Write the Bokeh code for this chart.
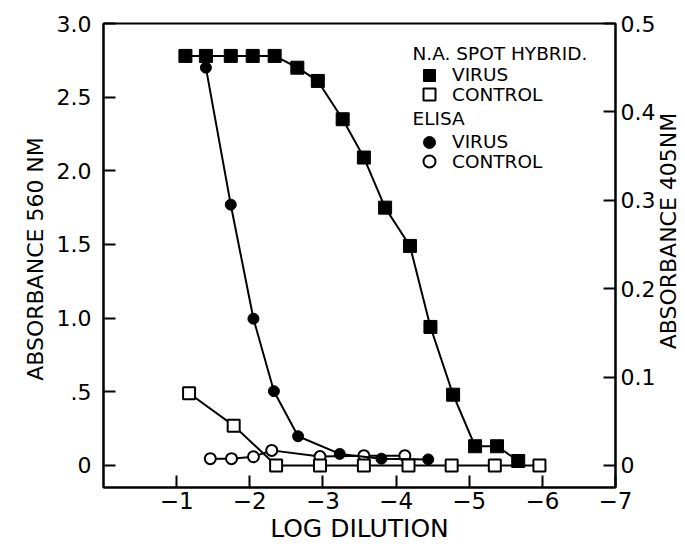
import math
from bokeh.plotting import figure
from bokeh.models import (Range1d, LinearAxis, FixedTicker, Legend, LegendItem, Label)
from bokeh.embed import file_html
from bokeh.resources import INLINE

# ---- data ----
# N.A. spot hybridization (left axis, absorbance 560 nm)
na_virus_x = [-1.12, -1.40, -1.74, -2.04, -2.34, -2.65, -2.93, -3.27, -3.56, -3.85,
              -4.19, -4.47, -4.78, -5.08, -5.38, -5.67]
na_virus_y = [2.78, 2.78, 2.78, 2.78, 2.78, 2.70, 2.61, 2.35, 2.09, 1.75,
              1.49, 0.94, 0.48, 0.13, 0.13, 0.03]
na_control_x = [-1.17, -1.78, -2.36, -2.96, -3.56, -4.17, -4.76, -5.35, -5.96]
na_control_y = [0.49, 0.27, 0.0, 0.0, 0.0, 0.0, 0.0, 0.0, 0.0]

# ELISA (right axis, absorbance 405 nm)
elisa_virus_x = [-1.40, -1.74, -2.05, -2.33, -2.66, -3.23, -3.80, -4.44]
elisa_virus_y = [0.450, 0.295, 0.166, 0.084, 0.033, 0.013, 0.0076, 0.0068]
elisa_control_x = [-1.46, -1.75, -2.05, -2.30, -2.96, -3.56, -4.12]
elisa_control_y = [0.0076, 0.0076, 0.0098, 0.017, 0.010, 0.011, 0.011]

x_ticks = [-1, -2, -3, -4, -5, -6, -7]
x_tick_labels = ["\u22121", "\u22122", "\u22123", "\u22124", "\u22125", "\u22126", "\u22127"]
left_ticks = [0, 0.5, 1.0, 1.5, 2.0, 2.5, 3.0]
left_tick_labels = ["0", ".5", "1.0", "1.5", "2.0", "2.5", "3.0"]
right_ticks = [0, 0.1, 0.2, 0.3, 0.4, 0.5]
right_tick_labels = ["0", "0.1", "0.2", "0.3", "0.4", "0.5"]

legend_titles = ["N.A. SPOT HYBRID.", "ELISA"]
legend_labels = ["VIRUS", "CONTROL"]

FONT = "DejaVu Sans"
W, H = 684, 545
B_LEFT, B_RIGHT, B_TOP, B_BOTTOM = 103, 69, 23, 57
FRAME_W = W - B_LEFT - B_RIGHT
FRAME_H = H - B_TOP - B_BOTTOM

p = figure(width=W, height=H, output_backend="svg", toolbar_location=None,
           x_range=Range1d(0, -7), y_range=Range1d(-0.15, 3.0),
           min_border_left=B_LEFT, min_border_right=B_RIGHT,
           min_border_top=B_TOP, min_border_bottom=B_BOTTOM)
p.extra_y_ranges = {"r": Range1d(-0.025, 0.5)}
p.xgrid.visible = False
p.ygrid.visible = False
p.outline_line_color = "black"
p.outline_line_width = 2
p.background_fill_color = "white"
p.border_fill_color = "white"

def style_axis(ax, ticks, labels, font_size, label_size):
    ax.ticker = FixedTicker(ticks=ticks)
    ax.major_label_overrides = {t: l for t, l in zip(ticks, labels)}
    ax.minor_tick_line_color = None
    ax.major_tick_in = 12
    ax.major_tick_out = 0
    ax.major_tick_line_width = 2
    ax.major_tick_line_color = "black"
    ax.axis_line_width = 2
    ax.axis_line_color = "black"
    ax.major_label_text_font = FONT
    ax.major_label_text_font_size = font_size
    ax.major_label_text_color = "black"
    ax.axis_label_text_font = FONT
    ax.axis_label_text_font_size = label_size
    ax.axis_label_text_font_style = "normal"
    ax.axis_label_text_color = "black"

xa = p.xaxis[0]
style_axis(xa, x_ticks, x_tick_labels, "23px", "25px")
xa.axis_label = "LOG DILUTION"
xa.major_label_standoff = 4
xa.axis_label_standoff = 2

ya = p.yaxis[0]
style_axis(ya, left_ticks, left_tick_labels, "22px", "22px")
ya.axis_label = "ABSORBANCE  560 NM"
ya.major_label_standoff = 12
ya.axis_label_standoff = 6

ra = LinearAxis(y_range_name="r")
style_axis(ra, right_ticks, right_tick_labels, "22px", "22px")
ra.major_label_standoff = 5
p.add_layout(ra, "right")

# right axis title, reading bottom-to-top as in the reference
p.add_layout(Label(x=10, y=FRAME_H - (228 - B_TOP), x_units="screen", y_units="screen",
                   text="ABSORBANCE  405NM", angle=math.pi / 2, angle_units="rad",
                   text_font=FONT, text_font_size="22px", text_color="black",
                   text_align="center", text_baseline="middle"), "right")

LW = 2
# ELISA control
p.line(elisa_control_x, elisa_control_y, y_range_name="r", line_color="black", line_width=LW)
r_ec = p.scatter(elisa_control_x, elisa_control_y, y_range_name="r", marker="circle", size=11,
                 fill_color="white", line_color="black", line_width=LW)
# ELISA virus
p.line(elisa_virus_x, elisa_virus_y, y_range_name="r", line_color="black", line_width=LW)
r_ev = p.scatter(elisa_virus_x, elisa_virus_y, y_range_name="r", marker="circle", size=11,
                 fill_color="black", line_color="black", line_width=1)
# NA control
p.line(na_control_x, na_control_y, line_color="black", line_width=LW)
r_nc = p.scatter(na_control_x, na_control_y, marker="square", size=12,
                 fill_color="white", line_color="black", line_width=LW)
# NA virus
p.line(na_virus_x, na_virus_y, line_color="black", line_width=LW)
r_nv = p.scatter(na_virus_x, na_virus_y, marker="square", size=13,
                 fill_color="black", line_color="black", line_width=1)

# legend: one single-item legend per row, headings as labels (screen units, frame-relative)
def row_legend(label, renderer, center_y_page):
    lg = Legend(items=[LegendItem(label=label, renderers=[renderer])],
                location=(311, FRAME_H - (center_y_page - B_TOP) - 15))
    lg.label_text_font = FONT
    lg.label_text_font_size = "18.5px"
    lg.label_text_color = "black"
    lg.glyph_width = 30
    lg.glyph_height = 30
    lg.label_height = 30
    lg.label_standoff = 8
    lg.padding = 0
    lg.margin = 0
    lg.border_line_alpha = 0
    lg.background_fill_alpha = 0
    p.add_layout(lg, "center")

def heading(text, center_y_page):
    lab = Label(x=309, y=FRAME_H - (center_y_page - B_TOP), x_units="screen", y_units="screen",
                text=text, text_font=FONT, text_font_size="18.5px", text_color="black",
                text_align="left", text_baseline="middle")
    p.add_layout(lab)

heading(legend_titles[0], 53.5)
row_legend(legend_labels[0], r_nv, 75.5)
row_legend(legend_labels[1], r_nc, 95)
heading(legend_titles[1], 119)
row_legend(legend_labels[0], r_ev, 142.5)
row_legend(legend_labels[1], r_ec, 162)

open("out.html", "w").write(file_html(p, INLINE))
